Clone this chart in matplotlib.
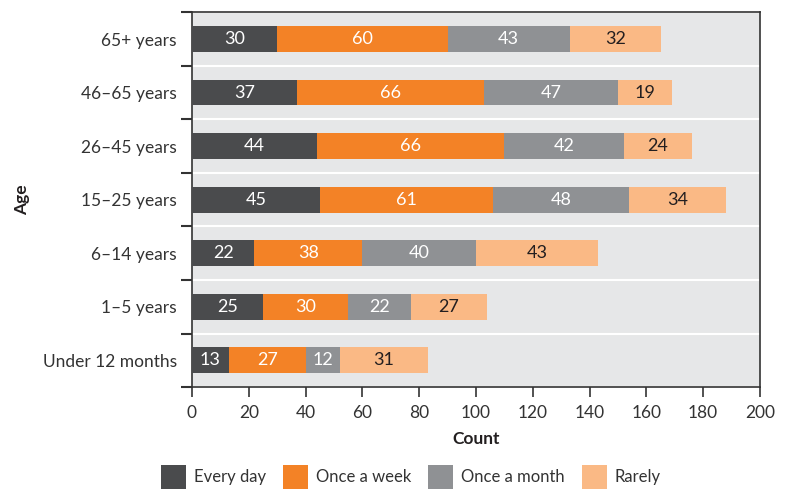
import numpy as np
import matplotlib
matplotlib.use("Agg")
import matplotlib.pyplot as plt
from matplotlib.patches import Patch

plt.rcParams['font.family'] = ['Lato', 'DejaVu Sans']

# data, top to bottom as shown
ages = ['65+ years', '46–65 years', '26–45 years', '15–25 years',
        '6–14 years', '1–5 years', 'Under 12 months']
every_day = [30, 37, 44, 45, 22, 25, 13]
once_week = [60, 66, 66, 61, 38, 30, 27]
once_month = [43, 47, 42, 48, 40, 22, 12]
rarely = [32, 19, 24, 34, 43, 27, 31]

series = ['Every day', 'Once a week', 'Once a month', 'Rarely']
colors = ['#4a4b4d', '#f38226', '#8f9194', '#fab985']
text_colors = ['white', 'white', 'white', '#231f20']

fig = plt.figure(figsize=(7.9, 4.9), dpi=100)
ax = fig.add_axes([0.243, 0.21, 0.719, 0.765])
ax.set_facecolor('#e6e7e8')

y = np.arange(len(ages))[::-1]
left = np.zeros(len(ages))
for vals, name, c, tc in zip([every_day, once_week, once_month, rarely], series, colors, text_colors):
    vals = np.array(vals)
    ax.barh(y, vals, left=left, height=0.48, color=c, label=name, zorder=3)
    for yi, l, v in zip(y, left, vals):
        ax.text(l + v / 2, yi, str(v), ha='center', va='center', color=tc, fontsize=13, zorder=4)
    left = left + vals

ax.set_xlim(0, 200)
ax.set_ylim(-0.5, len(ages) - 0.5)
ax.set_xticks(range(0, 201, 20))
ax.set_yticks(y)
ax.set_yticklabels(ages)
ax.set_yticks(np.arange(-0.5, len(ages), 1), minor=True)
ax.tick_params(axis='y', which='major', length=0, pad=11, labelsize=12.5, labelcolor='#333333')
ax.tick_params(axis='y', which='minor', length=8, width=1.5, color='#333333')
ax.tick_params(axis='x', length=7, width=1.2, color='#333333', labelsize=12.5, labelcolor='#333333', pad=6)
ax.grid(axis='y', which='minor', color='white', linewidth=1.5, zorder=1)
for s in ax.spines.values():
    s.set_color('#333333')
    s.set_linewidth(1.2)

ax.set_xlabel('Count', fontsize=12.5, fontweight='bold', color='#231f20', labelpad=7)
ax.set_ylabel('Age', fontsize=12.5, fontweight='bold', color='#231f20', labelpad=9)

handles = [Patch(facecolor=c, label=n) for c, n in zip(colors, series)]
fig.legend(handles=handles, loc='lower center', bbox_to_anchor=(0.52, -0.022), ncol=4,
           frameon=False, fontsize=12, handlelength=1.5, handleheight=1.85,
           columnspacing=1.0, handletextpad=0.5, labelcolor='#333333',
           borderaxespad=0.3)

fig.savefig('out.png', dpi=100)
